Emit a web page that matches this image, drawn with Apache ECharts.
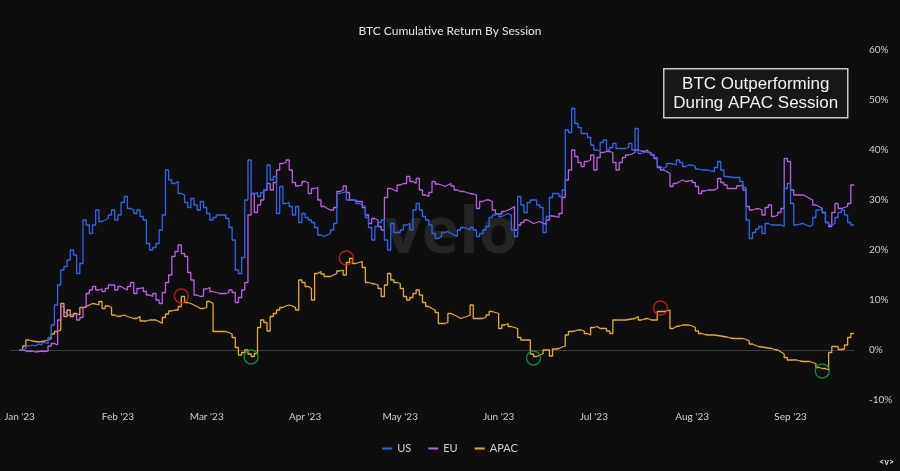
<!DOCTYPE html>
<html><head><meta charset="utf-8">
<script src="https://cdn.jsdelivr.net/npm/echarts@6/dist/echarts.min.js"></script>
<style>html,body{margin:0;padding:0;background:#0e0e0e}#c{width:900px;height:471px}</style>
</head><body><div id="c"></div>
<script>
// ---- data (daily, starting 2023-01-01) ----
const startYear = 2023;
const padBefore = 3, padAfter = 1;
const monthNames = ['Jan','Feb','Mar','Apr','May','Jun','Jul','Aug','Sep','Oct','Nov','Dec'];
const seriesNames = ['US','EU','APAC'];
const seriesColors = ['#3164ea','#b860e2','#e2ab2e'];
const us = [
0,0.3,0.8,1.0,0.8,1.2,1.0,1.5,1.3,2.5,
5,9,13,16,16.7,18,20,19,15.3,17.3,
26,25,23.3,25,28,25.7,26,26.3,27,28,
26,27,29.5,30.7,28.3,28,27.3,28,26.7,26,
21.3,20,20.5,21.3,24,27,36,34,33.3,33.7,
31.3,31,29.5,28.5,30.3,29,28,29.7,28.5,27.3,
26,26.5,27,27,27,26.3,24.5,22,16,15.3,
18.5,30,38,31.3,31.5,30.7,31.5,32,37,34,
34.7,27.3,32.7,29.3,29.5,28.7,27,28.7,25.5,27.3,
26.5,26,25.5,24.5,23,22.7,23,23.3,24,25.3,
31.3,31.5,31.7,30,30,30,29.3,29,28.7,26.5,
24.5,22,24.7,25.5,26,22,20,25.3,23.5,23.5,
24,25,25.3,24,28,29.3,28,26.7,26,25,
23.3,22.3,22.7,23.5,23.7,23.3,23,22.7,24,24.5,
24.3,24,24.5,24,22.7,23.3,24,24.7,26.5,27,
27.3,26.7,27,27.3,27,24,22.7,30.7,29,27.5,
29.5,30,30,29,28.5,23.5,26.7,30.5,31.3,31.3,
30.7,32,44,43.5,48.3,45.3,44.5,43.3,43.3,42.5,
41,40,39.7,41.5,42,40,40.5,41.3,40.3,40.3,
40.3,40.5,41.3,40,44.3,39.3,39.5,39.7,39.3,39,
38.5,36.7,36.3,36.7,37.3,37.2,37,38,37.5,36.7,
37,37,36.7,36.2,36,36,36,35.8,35.7,36.5,
37.7,36,34.7,34.6,34.5,34.5,34.5,33.7,32.5,26,
22.3,23.5,24.2,24.7,23.3,25.3,25,25,25,25,
24.7,32.3,33.3,29.3,25,25.2,25.3,25,24.7,25,
26.5,28,28.2,27.5,25.5,25,25.3,26.5,27.5,28,
27,25.5,25];
const eu = [
0,-0.2,-0.3,-0.2,-0.4,-0.3,-0.2,-0.3,-0.2,0.8,
1.3,1,6,8.7,7.5,7,7.2,7,6,6.5,
8.5,11.3,12,12.7,12,12.2,11.7,12.3,13,13,
12,12.7,12.3,12,12.7,13.5,11.3,12.3,12.5,11.7,
11,10.7,11.3,10,9.3,11.5,13.5,15,18.7,19.7,
21,19.3,18.7,15.5,14,11,10.7,10.8,12.2,12.5,
11.7,11.5,11.3,11.3,11.3,11.5,12,11.5,9.5,10.5,
12,13.5,27,31.3,27.5,29,30,32,33.3,32,
33.5,36,37.3,37.5,38,36,33.5,32.8,33,33.7,
33.5,31.3,32.3,32.5,30,28.7,28.3,28,28,28.5,
31.7,32,32.8,31.5,30,29.8,29.7,29.7,28.5,27,
25.3,26.3,26,24.7,24,30.5,32.3,32,31.7,33,
33.3,33.3,34.7,33.7,33.3,34.3,32,31,30.7,31.5,
33.7,33.2,33,32.7,33,33.3,32.8,32,31.7,31.7,
31.5,31.3,31.2,31,28.3,29.7,30,30,29.7,28,
27.2,27.2,27.7,28,28.3,28.7,24,25,25.5,26,
25.7,25.3,25.5,25.7,25.3,25.2,26,26.8,26.7,26.5,
27.3,30.5,34,36,40,38.7,37.5,36.7,37.7,38,
39,36,38.5,39.5,39.7,39.7,39.5,37.5,36,37.5,
38.5,39,39.2,39.5,40,39.8,39.7,40,39.5,39,
38.3,36.5,36,35.7,35.3,32.7,33.3,33.7,34,33.7,
33.8,34,33.5,32.7,31.3,31.8,32,32,32,32.3,
34.3,33.5,33,32.3,32.3,32.3,32.8,33,32,28.7,
28,28.2,28.3,28,27,28.5,29,26.7,27,27.5,
28.3,38.3,37.7,32,31,31,31,30.7,30.3,30,
29,28.7,28.3,27.5,25.5,24.7,27.5,29.3,28.3,28.5,
28.7,29.3,33];
const apac = [
0,0.8,2,1.8,1.7,1.6,1.7,1.8,2,2.3,
3.2,3.7,4,9.3,6.7,8,6.7,7.3,7,8.5,
8.7,9,9.3,9.2,9,9.7,8.3,8.8,8.5,7,
6.7,6.8,7,6.7,6.5,6.3,6.3,6.7,5.8,5.8,
6,6,6,5.7,5.3,6.5,7.2,7.8,8,8,
8.7,10.7,9.5,9.3,9,8.7,8.3,8.3,8.5,9.7,
9.3,3.7,3.7,3.7,3.7,3.5,3.2,2.5,0.5,-1,
-0.5,0,-0.8,-1.3,-0.7,4.5,6,5.5,3.8,6.7,
7.3,8,8.5,8.8,9,8.8,8.5,8,14,13.5,
12.7,12.3,10,15.3,15.7,15.2,14.7,14.7,15,15.3,
15.8,16,15,17.5,18.3,17.3,17.5,17.7,16.5,13.5,
13.3,13.2,13,12.3,10.7,13,15.3,14,13.5,13.3,
12.3,10.7,10,10.5,11.3,12,11,9.5,8.7,8.3,
8,7.5,5.3,5.3,5.5,7.3,7,6.7,6.3,6.5,
6.7,7,9,6.3,6.3,6.3,6.5,7,7.7,7.5,
7.3,4.3,5,5.3,4.7,4.5,4.3,2.5,2,2,
2,-0.8,-1.3,-1,-0.7,0,0,-1.2,0.2,0.3,
0.6,0.8,3,3.7,3.8,4,4,3.8,3.3,3,
4.5,4.7,4.3,4.3,4.3,3.8,3.3,6,6,6,
6,6.1,6.2,6.3,6.7,6,6.2,6.3,6,6,
6,7.7,7.7,7.8,8,4.3,4.7,4.8,5,5,
5,4.8,4.5,3.8,3.3,3.1,3,3,3,2.9,
2.8,2.7,2.6,2.4,2.3,2.3,2.3,2.3,2.1,1.8,
1.2,0.9,0.7,0.6,0.5,0.4,0.3,0.1,0,-0.4,
-0.8,-1.5,-2,-2,-2,-2.2,-2.3,-2.3,-2.3,-2.5,
-2.7,-3.5,-3.7,-3.7,-4,-0.5,0.7,0.7,0.1,0.2,
1,2.5,3.3];
const peakDates = ['2023-02-21','2023-04-14','2023-07-22'];
const peakValues = [10.8, 18.4, 8.4];
const troughDates = ['2023-03-15','2023-06-12','2023-09-11'];
const troughValues = [-1.4, -1.6, -4.2];
const yMin = -10, yMax = 60, yStep = 10;

// ---- build ----
function dayStr(offset){
  return new Date(Date.UTC(startYear,0,1) + offset*86400000).toISOString().slice(0,10);
}
const categories = [];
for (let i = -padBefore; i < us.length + padAfter; i++) categories.push(dayStr(i));
const pad = arr => Array(padBefore).fill(null).concat(arr, Array(padAfter).fill(null));
const seriesVals = [us, eu, apac];

const chart = echarts.init(document.getElementById('c'), null, {renderer:'canvas'});
const font = 'Lato, "Noto Sans", sans-serif';
const lineSeries = seriesNames.map((n,i)=>({
  name:n, type:'line', data:pad(seriesVals[i]), showSymbol:false, symbol:'none', step:'end',
  lineStyle:{width:1.3, color:seriesColors[i]}, itemStyle:{color:seriesColors[i]},
  z: 3 + (2-i), animation:false
}));
lineSeries[2].markLine = {
  silent:true, symbol:['none','none'], label:{show:false},
  lineStyle:{color:'#3c3c3c', type:'solid', width:1},
  data:[{yAxis:0}], z:1
};
lineSeries[2].z = 2;
const circle = (name, dates, vals, col) => ({
  name, type:'scatter', data:dates.map((d,i)=>[d, vals[i]]),
  symbol:'circle', symbolSize:14, silent:true, z:10,
  itemStyle:{color:'rgba(0,0,0,0)', borderColor:col, borderWidth:1.5}
});

chart.setOption({
  backgroundColor:'#0e0e0e',
  animation:false,
  title:{text:'BTC Cumulative Return By Session', left:'center', top:20,
    textStyle:{color:'#e4e4e4', fontSize:12, fontWeight:'normal', fontFamily:font}},
  legend:{data:seriesNames, top:438, left:'center', icon:'rect', itemWidth:10, itemHeight:2, itemGap:17,
    textStyle:{color:'#cfcfcf', fontSize:11, fontFamily:font}},
  grid:{left:10, right:46, top:50, bottom:71},
  xAxis:{type:'category', data:categories, boundaryGap:false,
    axisLine:{show:false}, axisTick:{show:false}, splitLine:{show:false},
    axisLabel:{color:'#cfcfcf', fontSize:10, fontFamily:font, margin:12,
      interval:(idx,val)=>val.endsWith('-01'),
      formatter:(val)=>monthNames[+val.slice(5,7)-1] + " '" + val.slice(2,4)}},
  yAxis:{type:'value', position:'right', min:yMin, max:yMax, interval:yStep,
    axisLine:{show:false}, axisTick:{show:false}, splitLine:{show:false},
    axisLabel:{color:'#cfcfcf', fontSize:10, fontFamily:font, margin:15, formatter:'{value}%'}},
  graphic:[
    {type:'text', left:385, top:203, z:0, silent:true,
      style:{text:'velo', fontSize:64, fontWeight:'bold', fill:'#242424', fontFamily:'"Open Sans", sans-serif'}},
    {type:'group', left:663, top:68, z:100, children:[
      {type:'rect', shape:{x:0,y:0,width:184,height:49}, style:{fill:'#171717', stroke:'#c8c8c8', lineWidth:1.5}},
      {type:'text', x:92, y:25, style:{text:'BTC Outperforming\nDuring APAC Session', fill:'#f2f2f2',
        fontSize:17, lineHeight:19, fontFamily:'"Liberation Sans", Arial, sans-serif', align:'center', verticalAlign:'middle'}}
    ]},
    {type:'text', left:879, top:458, z:100, style:{text:'<v>', fontSize:9, fontWeight:'bold', fill:'#dddddd', fontFamily:font}}
  ],
  series: lineSeries.concat([
    circle('peak', peakDates, peakValues, '#d8221c'),
    circle('trough', troughDates, troughValues, '#1d9a45')
  ])
});
</script></body></html>
